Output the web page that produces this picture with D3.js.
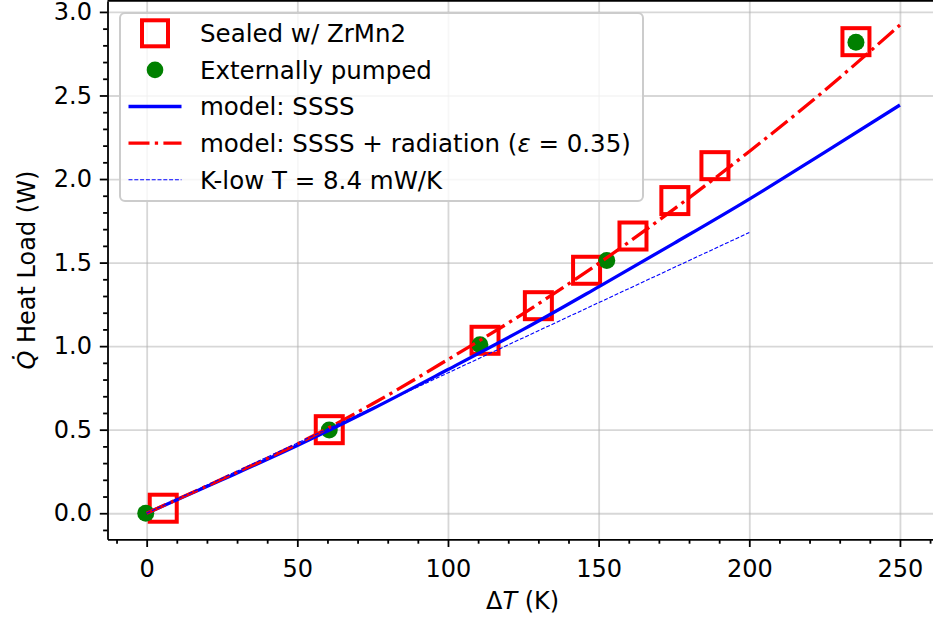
<!DOCTYPE html>
<html>
<head>
<meta charset="utf-8">
<script src="https://cdn.jsdelivr.net/npm/d3@7"></script>
<style>
  body { margin: 0; background: #fff; }
  text { font-family: "DejaVu Sans", sans-serif; fill: #000; }
  .grid line { stroke: #b0b0b0; stroke-opacity: 0.5; stroke-width: 1.8; }
  .grid path { display: none; }
  .axis path, .axis line { stroke: #000; stroke-width: 1.8; }
</style>
</head>
<body>
<div id="chart"></div>
<script>
// values: ΔT in K, heat load in W
const sealedDT = [5.5, 60.6, 112.3, 130.0, 146.0, 161.4, 175.3, 188.6, 235.4];
const sealedQ  = [0.03, 0.50, 1.035, 1.242, 1.454, 1.659, 1.871, 2.080, 2.822];

const pumpedDT = [-0.3, 60.6, 110.6, 152.7, 235.4];
const pumpedQ  = [0.0, 0.498, 1.008, 1.512, 2.818];

const modelDT  = [0, 25, 50, 75, 100, 125, 150, 175, 200, 225, 250];
const ssssQ    = [0, 0.20, 0.405, 0.625, 0.86, 1.10, 1.355, 1.615, 1.88, 2.16, 2.443];
const radQ     = [0, 0.205, 0.415, 0.655, 0.92, 1.195, 1.495, 1.82, 2.165, 2.53, 2.922];

const kLowDT = [0, 200];
const kLowQ  = [0, 1.68];

const xTicks = [0, 50, 100, 150, 200, 250];
const yTicks = [0, 0.5, 1.0, 1.5, 2.0, 2.5, 3.0];

const legendLabels = [
    "Sealed w/ ZrMn2",
    "Externally pumped",
    "model: SSSS",
    "model: SSSS + radiation",
    "K-low T = 8.4 mW/K"
];

const width = 933;
const height = 622;
const plot = ({left: 107.5, right: 937.6, top: 0.9, bottom: 539.3});

const x = d3.scaleLinear()
    .domain([-13, 262.5])
    .range([plot.left, plot.right]);

const y = d3.scaleLinear()
    .domain([-0.156, 3.066])
    .range([plot.bottom, plot.top]);

const svg = d3.select("#chart")
    .append("svg")
    .attr("width", width)
    .attr("height", height);

svg.append("defs").append("clipPath")
    .attr("id", "clip")
    .append("rect")
    .attr("x", plot.left)
    .attr("y", plot.top)
    .attr("width", plot.right - plot.left)
    .attr("height", plot.bottom - plot.top);

// gridlines
svg.append("g")
    .attr("class", "grid")
    .attr("transform", `translate(0,${plot.bottom})`)
    .call(d3.axisBottom(x).tickValues(xTicks).tickSize(-(plot.bottom - plot.top)).tickFormat(""));
svg.append("g")
    .attr("class", "grid")
    .attr("transform", `translate(${plot.left},0)`)
    .call(d3.axisLeft(y).tickValues(yTicks).tickSize(-(plot.right - plot.left)).tickFormat(""));

const data = svg.append("g").attr("clip-path", "url(#clip)");

const sealed = sealedDT.map((d, i) => ({dt: d, q: sealedQ[i]}));
const pumped = pumpedDT.map((d, i) => ({dt: d, q: pumpedQ[i]}));
const side = 27;

data.selectAll(".sealed")
    .data(sealed)
    .enter().append("rect")
    .attr("x", d => x(d.dt) - side / 2)
    .attr("y", d => y(d.q) - side / 2)
    .attr("width", side)
    .attr("height", side)
    .attr("fill", "none")
    .attr("stroke", "#ff0000")
    .attr("stroke-width", 4);

data.selectAll(".pumped")
    .data(pumped)
    .enter().append("circle")
    .attr("cx", d => x(d.dt))
    .attr("cy", d => y(d.q))
    .attr("r", 8.5)
    .attr("fill", "#008000");

const line = d3.line()
    .curve(d3.curveMonotoneX)
    .x(d => x(d[0]))
    .y(d => y(d[1]));

data.append("path")
    .attr("d", line(d3.zip(modelDT, ssssQ)))
    .attr("fill", "none")
    .attr("stroke", "#0000ff")
    .attr("stroke-width", 3.3);

data.append("path")
    .attr("d", line(d3.zip(modelDT, radQ)))
    .attr("fill", "none")
    .attr("stroke", "#ff0000")
    .attr("stroke-width", 3.3)
    .attr("stroke-dasharray", "21,5.3,3.3,5.3");

data.append("path")
    .attr("d", line(d3.zip(kLowDT, kLowQ)))
    .attr("fill", "none")
    .attr("stroke", "#0000ff")
    .attr("stroke-width", 1.1)
    .attr("stroke-dasharray", "4,1.8");

// axes with minor ticks
const xAxis = svg.append("g")
    .attr("class", "axis")
    .attr("transform", `translate(0,${plot.bottom})`);
xAxis.call(d3.axisBottom(x).tickValues(xTicks).tickSize(7.7).tickSizeOuter(0).tickPadding(13));
xAxis.append("g")
    .call(d3.axisBottom(x).tickValues(d3.range(-10, 261, 10).filter(v => v % 50 != 0)).tickSize(4.4).tickFormat(""))
    .select(".domain").remove();

const yAxis = svg.append("g")
    .attr("class", "axis")
    .attr("transform", `translate(${plot.left},0)`);
yAxis.call(d3.axisLeft(y).tickValues(yTicks).tickFormat(d3.format(".1f")).tickSize(7.7).tickSizeOuter(0).tickPadding(7.8));
yAxis.append("g")
    .call(d3.axisLeft(y).tickValues(d3.range(-1, 31).filter(v => v % 5 != 0).map(v => v / 10)).tickSize(4.4).tickFormat(""))
    .select(".domain").remove();

svg.selectAll(".axis text")
    .attr("font-family", "DejaVu Sans")
    .attr("font-size", "24px")
    .attr("fill", "#000");

// top spine
svg.append("line")
    .attr("x1", plot.left).attr("x2", plot.right)
    .attr("y1", plot.top).attr("y2", plot.top)
    .attr("stroke", "#000").attr("stroke-width", 1.8);

// axis labels
const xLabel = svg.append("text")
    .attr("x", (plot.left + plot.right) / 2)
    .attr("y", 609)
    .attr("text-anchor", "middle")
    .attr("font-size", "24px");
xLabel.append("tspan").text("Δ");
xLabel.append("tspan").attr("font-style", "italic").text("T");
xLabel.append("tspan").text(" (K)");

const yLabel = svg.append("text")
    .attr("transform", `translate(34.5,${(plot.top + plot.bottom) / 2}) rotate(-90)`)
    .attr("text-anchor", "middle")
    .attr("font-size", "24px");
yLabel.append("tspan").attr("font-style", "italic").text("Q\u0307");
yLabel.append("tspan").text(" Heat Load (W)");

// legend
const legend = svg.append("g");
legend.append("rect")
    .attr("x", 120).attr("y", 13)
    .attr("width", 523).attr("height", 188)
    .attr("rx", 5)
    .attr("fill", "#fff").attr("fill-opacity", 0.8)
    .attr("stroke", "#cccccc").attr("stroke-width", 2);

const rowY = i => 33.3 + i * 36.6;
const hx = [128.5, 181.5];

legend.append("rect")
    .attr("x", (hx[0] + hx[1]) / 2 - 13).attr("y", rowY(0) - 13)
    .attr("width", 26).attr("height", 26)
    .attr("fill", "none").attr("stroke", "#ff0000").attr("stroke-width", 4);
legend.append("circle")
    .attr("cx", (hx[0] + hx[1]) / 2).attr("cy", rowY(1))
    .attr("r", 8.3).attr("fill", "#008000");
legend.append("line")
    .attr("x1", hx[0]).attr("x2", hx[1]).attr("y1", rowY(2)).attr("y2", rowY(2))
    .attr("stroke", "#0000ff").attr("stroke-width", 3.3);
legend.append("line")
    .attr("x1", hx[0]).attr("x2", hx[1]).attr("y1", rowY(3)).attr("y2", rowY(3))
    .attr("stroke", "#ff0000").attr("stroke-width", 3.3)
    .attr("stroke-dasharray", "21,5.3,3.3,5.3");
legend.append("line")
    .attr("x1", hx[0]).attr("x2", hx[1]).attr("y1", rowY(4)).attr("y2", rowY(4))
    .attr("stroke", "#0000ff").attr("stroke-width", 1.1)
    .attr("stroke-dasharray", "4,1.8");

legendLabels.forEach((label, i) => {
    const t = legend.append("text")
        .attr("x", 200)
        .attr("y", rowY(i) + 8.8)
        .attr("font-size", "24.5px")
        .text(label);
    if (i == 3) {
        t.append("tspan").text(" (");
        t.append("tspan").attr("font-style", "italic").text("ε");
        t.append("tspan").text(" = 0.35)");
    }
});
</script>
</body>
</html>
